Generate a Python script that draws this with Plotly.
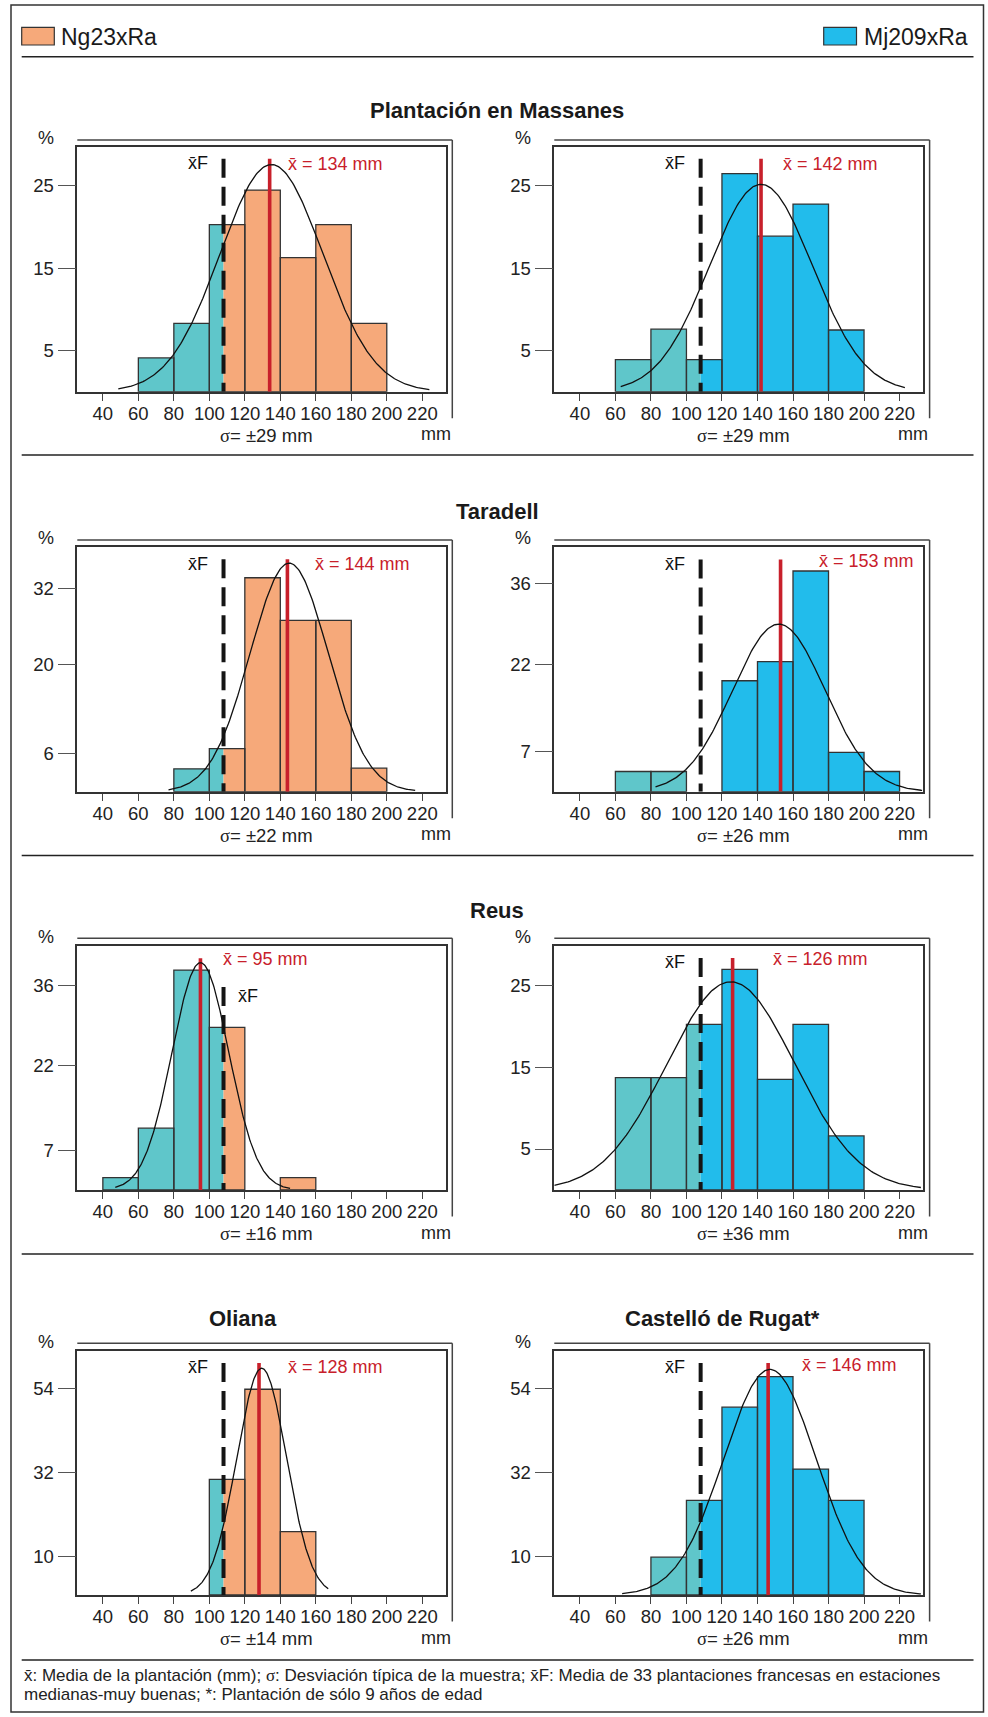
import numpy as np
import plotly.graph_objects as go

W, H = 988, 1717

# ---------------- data ----------------
XF_MEAN = 108            # x̄F : media de 33 plantaciones francesas (mm)
BIN_WIDTH = 20
x_tick_vals = [40, 60, 80, 100, 120, 140, 160, 180, 200, 220]

series_names = ["Ng23xRa", "Mj209xRa"]
row_titles = ["Plantación en Massanes", "Taradell", "Reus"]
bottom_titles = ["Oliana", "Castelló de Rugat*"]

# panel order: Massanes Ng, Massanes Mj, Taradell Ng, Taradell Mj,
#              Reus Ng, Reus Mj, Oliana Ng, Castelló Mj
massanes_ng_bins = [60, 80, 100, 120, 140, 160, 180]
massanes_ng_pct = [4.1, 8.3, 20.3, 24.5, 16.3, 20.3, 8.3]
massanes_mj_bins = [60, 80, 100, 120, 140, 160, 180]
massanes_mj_pct = [3.9, 7.6, 3.9, 26.5, 18.9, 22.8, 7.5]
taradell_ng_bins = [80, 100, 120, 140, 160, 180]
taradell_ng_pct = [3.6, 6.8, 33.7, 27.0, 27.0, 3.7]
taradell_mj_bins = [60, 80, 120, 140, 160, 180, 200]
taradell_mj_pct = [3.5, 3.5, 19.2, 22.5, 38.2, 6.8, 3.5]
reus_ng_bins = [40, 60, 80, 100, 140]
reus_ng_pct = [2.2, 10.9, 38.8, 28.7, 2.2]
reus_mj_bins = [60, 80, 100, 120, 140, 160, 180]
reus_mj_pct = [13.7, 13.7, 20.2, 26.9, 13.5, 20.2, 6.6]
oliana_ng_bins = [100, 120, 140]
oliana_ng_pct = [30.3, 53.9, 16.6]
castello_mj_bins = [80, 100, 120, 140, 160, 180]
castello_mj_pct = [9.9, 24.8, 49.2, 57.2, 33.0, 24.8]

plantation_means = [134, 142, 144, 153, 95, 126, 128, 146]
plantation_sigmas = [29, 29, 22, 26, 16, 36, 14, 26]
y_tick_vals = [[5, 15, 25], [5, 15, 25], [6, 20, 32], [7, 22, 36],
               [7, 22, 36], [5, 15, 25], [10, 32, 54], [10, 32, 54]]
y_axis_max = [29.7, 29.7, 38.5, 42.3, 43.1, 29.8, 64.0, 64.0]

# fitted normal curves, as drawn
curve_mu = [135, 142, 145, 152, 95, 125, 129.5, 147]
curve_peak = [27.6, 25.2, 36.0, 29.0, 40.1, 25.4, 59.4, 59.1]
curve_from = [48.7, 63, 77, 82.6, 47, 25.6, 89.6, 63.8]
curve_to = [224, 223, 216, 232.7, 145.5, 232, 167, 232]

# heights where the vertical reference lines stop
mean_line_top = [28.3, 28.3, 36.6, 40.2, 40.9, 28.3, 60.8, 60.8]
xf_line_top = [28.3, 28.3, 36.6, 40.2, 35.8, 28.3, 60.8, 60.8]

footnote_1 = ("x\u0304: Media de la plantación (mm); "
              "<span style='font-family:Liberation Serif'>σ</span>: Desviación típica de la muestra; "
              "x\u0304F: Media de 33 plantaciones francesas en estaciones")
footnote_2 = "medianas-muy buenas; *: Plantación de sólo 9 años de edad"

# ---------------- style / layout ----------------
ORANGE = "#F6A97A"
BLUE = "#22BCEB"
TEAL = "#5FC6CA"
RED = "#C8202B"
EDGE = "#333333"
FONT = "Liberation Sans, Arial, sans-serif"
TICK_SIZE = 18.5
LABEL_SIZE = 18

COL_X = [(77.3, 445.7), (554.3, 923.0)]
ROW_Y = [(147.3, 391.7), (547.3, 791.7), (945.7, 1190.0), (1350.7, 1595.0)]
X_RANGE = [25.6, 233.2]

mean_label_px = [(286, 164), (781.3, 164), (313, 564), (817.3, 561),
                 (221, 959.3), (770.7, 959.3), (286, 1367.3), (799.7, 1365)]
xf_label_px = [(198, 163), (675, 163), (198, 564), (675, 564),
               (248, 996), (675, 961.7), (198, 1367), (675, 1367.3)]

panels = [
    (massanes_ng_bins, massanes_ng_pct, ORANGE),
    (massanes_mj_bins, massanes_mj_pct, BLUE),
    (taradell_ng_bins, taradell_ng_pct, ORANGE),
    (taradell_mj_bins, taradell_mj_pct, BLUE),
    (reus_ng_bins, reus_ng_pct, ORANGE),
    (reus_mj_bins, reus_mj_pct, BLUE),
    (oliana_ng_bins, oliana_ng_pct, ORANGE),
    (castello_mj_bins, castello_mj_pct, BLUE),
]


def px(x):
    return x / W


def py(y):
    return 1 - y / H


def xbar(t):
    return "x\u0304" + t


fig = go.Figure()
layout_axes = {}
annotations = []
shapes = []

for i, (bins, pct, color) in enumerate(panels):
    row, col = divmod(i, 2)
    xa = "x" if i == 0 else f"x{i + 1}"
    ya = "y" if i == 0 else f"y{i + 1}"
    x0, x1 = COL_X[col]
    y0, y1 = ROW_Y[row]

    tx, tw, ty, cx, cw, cy = [], [], [], [], [], []
    for b, p in zip(bins, pct):
        r = b + BIN_WIDTH
        if b < XF_MEAN:
            e = min(r, XF_MEAN)
            tx.append((b + e) / 2); tw.append(e - b); ty.append(p)
        if r > XF_MEAN:
            s = max(b, XF_MEAN)
            cx.append((s + r) / 2); cw.append(r - s); cy.append(p)
    if tx:
        fig.add_trace(go.Bar(x=tx, y=ty, width=tw, xaxis=xa, yaxis=ya,
                             marker=dict(color=TEAL, line=dict(width=0)), hoverinfo="skip"))
    if cx:
        fig.add_trace(go.Bar(x=cx, y=cy, width=cw, xaxis=xa, yaxis=ya,
                             marker=dict(color=color, line=dict(width=0)), hoverinfo="skip"))
    fig.add_trace(go.Bar(x=[b + BIN_WIDTH / 2 for b in bins], y=pct,
                         width=[BIN_WIDTH] * len(bins), xaxis=xa, yaxis=ya,
                         marker=dict(color="rgba(0,0,0,0)", line=dict(color=EDGE, width=1.3)),
                         hoverinfo="skip"))

    # x̄F dashed line
    fig.add_trace(go.Scatter(x=[XF_MEAN, XF_MEAN], y=[xf_line_top[i], 0], mode="lines",
                             xaxis=xa, yaxis=ya, hoverinfo="skip",
                             line=dict(color="#151515", width=4, dash="19px,9px")))
    # plantation mean
    m = plantation_means[i]
    fig.add_trace(go.Scatter(x=[m, m], y=[mean_line_top[i], 0], mode="lines",
                             xaxis=xa, yaxis=ya, hoverinfo="skip",
                             line=dict(color=RED, width=3.6)))
    # normal curve
    xs = np.linspace(curve_from[i], curve_to[i], 240)
    ys = curve_peak[i] * np.exp(-0.5 * ((xs - curve_mu[i]) / plantation_sigmas[i]) ** 2)
    fig.add_trace(go.Scatter(x=xs, y=ys, mode="lines", xaxis=xa, yaxis=ya,
                             hoverinfo="skip", line=dict(color="#111111", width=1.3)))

    key_x = "xaxis" if i == 0 else f"xaxis{i + 1}"
    key_y = "yaxis" if i == 0 else f"yaxis{i + 1}"
    layout_axes[key_x] = dict(
        domain=[px(x0), px(x1)], anchor=ya, range=X_RANGE,
        tickvals=x_tick_vals, ticktext=[str(v) for v in x_tick_vals],
        ticks="outside", ticklen=7, tickwidth=1.2, tickcolor="#444",
        ticklabelstandoff=-3,
        showline=True, linecolor=EDGE, linewidth=1.6, mirror=True,
        showgrid=False, zeroline=False, fixedrange=True,
        tickfont=dict(family=FONT, size=TICK_SIZE, color="#222"))
    layout_axes[key_y] = dict(
        domain=[py(y1), py(y0)], anchor=xa, range=[0, y_axis_max[i]],
        tickvals=y_tick_vals[i], ticktext=[str(v) for v in y_tick_vals[i]],
        ticks="outside", ticklen=18, tickwidth=1.2, tickcolor="#555",
        showline=True, linecolor=EDGE, linewidth=1.6, mirror=True,
        showgrid=False, zeroline=False, fixedrange=True,
        tickfont=dict(family=FONT, size=TICK_SIZE, color="#222"))

    # offset "shadow" frame
    shapes.append(dict(type="line", xref="paper", yref="paper",
                       x0=px(x0), x1=px(x1 + 6.6), y0=py(y0 - 7.4), y1=py(y0 - 7.4),
                       line=dict(color="#444", width=1.5)))
    shapes.append(dict(type="line", xref="paper", yref="paper",
                       x0=px(x1 + 6.6), x1=px(x1 + 6.6), y0=py(y0 - 7.4), y1=py(y1 + 26.5),
                       line=dict(color="#444", width=1.5)))

    # texts
    annotations.append(dict(x=px(x0 - 31), y=py(y0 - 9), xref="paper", yref="paper",
                            text="%", showarrow=False, xanchor="center", yanchor="middle",
                            font=dict(family=FONT, size=LABEL_SIZE, color="#222")))
    annotations.append(dict(x=px((x0 + x1) / 2 + 5), y=py(y1 + 43.5), xref="paper", yref="paper",
                            text=f"<span style='font-family:Liberation Serif'>σ</span>= ±{plantation_sigmas[i]} mm",
                            showarrow=False, xanchor="center", yanchor="middle",
                            font=dict(family=FONT, size=18.5, color="#222")))
    annotations.append(dict(x=px(x1 + 7), y=py(y1 + 42.5), xref="paper", yref="paper",
                            text="mm", showarrow=False, xanchor="right", yanchor="middle",
                            font=dict(family=FONT, size=LABEL_SIZE, color="#222")))
    lx, ly = mean_label_px[i]
    annotations.append(dict(x=px(lx), y=py(ly), xref="paper", yref="paper",
                            text=f"{xbar('')} = {m} mm", showarrow=False,
                            xanchor="left", yanchor="middle",
                            font=dict(family=FONT, size=LABEL_SIZE, color=RED)))
    fx, fy = xf_label_px[i]
    annotations.append(dict(x=px(fx), y=py(fy), xref="paper", yref="paper",
                            text=xbar("F"), showarrow=False,
                            xanchor="center", yanchor="middle",
                            font=dict(family=FONT, size=LABEL_SIZE, color="#111")))

# row titles
for t, (tx_, ty_) in zip(row_titles + bottom_titles,
                         [(497, 111), (497, 511.5), (497, 910.5), (243.3, 1318.3), (722.3, 1318.3)]):
    annotations.append(dict(x=px(tx_), y=py(ty_), xref="paper", yref="paper", text=f"<b>{t}</b>",
                            showarrow=False, xanchor="center", yanchor="middle",
                            font=dict(family=FONT, size=22, color="#1a1a1a")))

# legend
shapes.append(dict(type="rect", xref="paper", yref="paper", x0=px(21.7), x1=px(54.3),
                   y0=py(45), y1=py(27.3), fillcolor=ORANGE, line=dict(color=EDGE, width=1.2)))
shapes.append(dict(type="rect", xref="paper", yref="paper", x0=px(823.7), x1=px(856.5),
                   y0=py(45), y1=py(27.3), fillcolor=BLUE, line=dict(color=EDGE, width=1.2)))
annotations.append(dict(x=px(59), y=py(36.5), xref="paper", yref="paper", text=series_names[0],
                        showarrow=False, xanchor="left", yanchor="middle",
                        font=dict(family=FONT, size=23, color="#1a1a1a")))
annotations.append(dict(x=px(862), y=py(36.5), xref="paper", yref="paper", text=series_names[1],
                        showarrow=False, xanchor="left", yanchor="middle",
                        font=dict(family=FONT, size=23, color="#1a1a1a")))

# outer border and separators
shapes.append(dict(type="rect", xref="paper", yref="paper", x0=px(11), x1=px(983.5),
                   y0=py(1712), y1=py(5), line=dict(color="#333", width=1.5)))
for sy in [56.7, 455, 855.5, 1254, 1660]:
    shapes.append(dict(type="line", xref="paper", yref="paper", x0=px(21.7), x1=px(973.5),
                       y0=py(sy), y1=py(sy), line=dict(color="#222", width=1.6)))

# footnote
annotations.append(dict(x=px(21.5), y=py(1675.5), xref="paper", yref="paper", text=footnote_1,
                        showarrow=False, xanchor="left", yanchor="middle",
                        font=dict(family=FONT, size=17, color="#222")))
annotations.append(dict(x=px(21.5), y=py(1694.5), xref="paper", yref="paper", text=footnote_2,
                        showarrow=False, xanchor="left", yanchor="middle",
                        font=dict(family=FONT, size=17, color="#222")))

fig.update_layout(width=W, height=H, margin=dict(l=0, r=0, t=0, b=0),
                  paper_bgcolor="white", plot_bgcolor="white", barmode="overlay",
                  showlegend=False, annotations=annotations, shapes=shapes,
                  font=dict(family=FONT), **layout_axes)

fig.write_html("out.html")
